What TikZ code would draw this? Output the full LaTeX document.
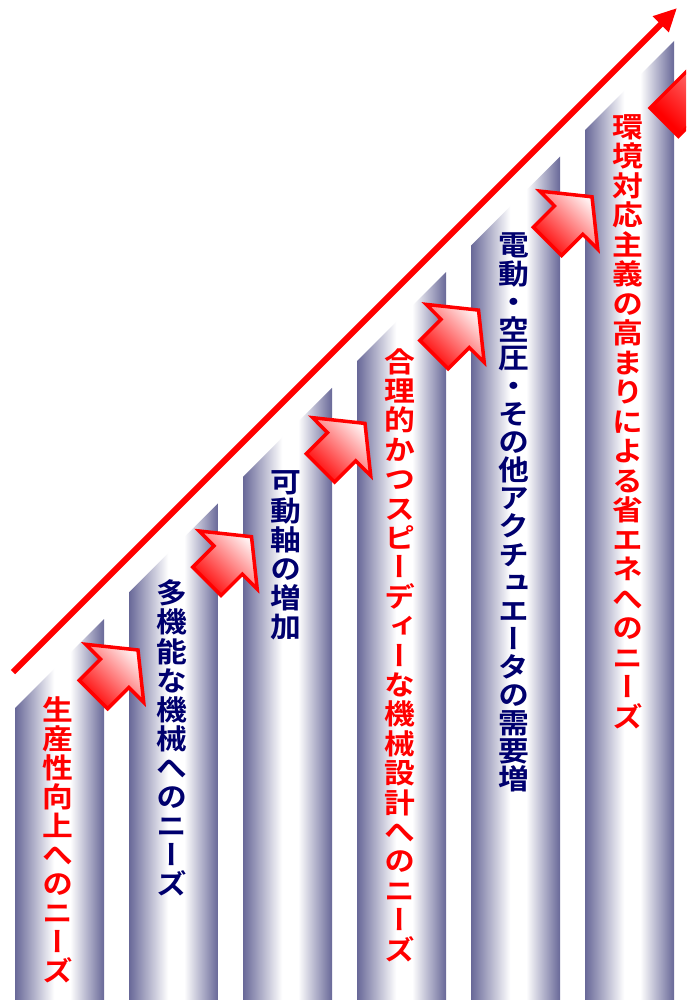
\documentclass[tikz,border=0pt]{standalone}
\usepackage{fontspec}
\newfontfamily\jp[RawFeature=+vert, FakeStretch=1.1]{Noto Sans CJK JP Bold}
\usetikzlibrary{arrows.meta}
\definecolor{coldark}{RGB}{104,104,152}
\definecolor{navytext}{RGB}{0,0,110}
\definecolor{arrowred}{RGB}{255,0,0}
\pgfdeclarehorizontalshading{colgrad}{100bp}{color(0bp)=(coldark); color(25bp)=(coldark); color(47bp)=(white); color(56bp)=(white); color(75bp)=(coldark); color(100bp)=(coldark)}
\makeatletter
\newdimen\tatep
\newcommand\tate[2]{\tatep=#1\relax\vbox{\offinterlineskip\tate@loop#2\relax}}
\def\tate@loop#1{\ifx#1\relax\else\hbox to 32pt{\hss\vrule width 0pt height 0.88\tatep depth 0.12\tatep #1\hss}\expandafter\tate@loop\fi}
\makeatother
\tikzset{
  column/.style={shading=colgrad, draw=none},
  blockarrow/.style={draw=arrowred, line width=3.5pt, line join=miter, miter limit=10,
     shading=axis, top color=red!6!white, bottom color=arrowred, shading angle=-45},
  vlabel/.style={anchor=north, inner sep=0pt, font=\jp\fontsize{28}{28}\selectfont},
  redlabel/.style={vlabel, text=red},
  navylabel/.style={vlabel, text=navytext},
  mainline/.style={draw=red, line width=6pt, -{Triangle[length=23pt, width=21pt]}}
}
\begin{document}
\begin{tikzpicture}[x=1pt, y=-1pt]
\useasboundingbox (0,0) rectangle (686,1000);
\fill[white] (0,0) rectangle (686,1000);
\clip (0,0) rectangle (686,1000);
% columns
\foreach \k in {0,...,5} {
  \pgfmathsetmacro\xa{15+114*\k}
  \pgfmathsetmacro\xb{104+114*\k}
  \pgfmathsetmacro\ya{708-115.6*\k}
  \pgfmathsetmacro\yb{619-115.6*\k}
  \shade[column] (\xa,1002) -- (\xa,\ya) -- (\xb,\yb) -- (\xb,1002) -- cycle;
}
% block arrows
\foreach \k in {0,...,4} {
  \pgfmathsetmacro\tx{138+113.5*\k}
  \pgfmathsetmacro\ty{650-113.3*\k}
  \begin{scope}[shift={(\tx,\ty)}]
    \path[blockarrow] (0,0) -- (-52.3,-5.7) -- (-37.5,9.2) -- (-58.7,30.4)
      -- (-30.4,58.7) -- (-9.2,37.5) -- (5.7,52.3) -- cycle;
  \end{scope}
}
\begin{scope}[shift={(758.2,28.1)}]
  \path[blockarrow] (0,0) -- (-52.3,-5.7) -- (-37.5,9.2) -- (-108.2,79.9)
    -- (-79.9,108.2) -- (-9.2,37.5) -- (5.7,52.3) -- cycle;
\end{scope}
% main arrow
\coordinate (start) at (13,672);
\coordinate (end) at (677,8);
\draw[mainline] (start) -- (end);
% labels
\node[redlabel]  (t1) at (58,695) {\tate{29.0pt}{生産性向上へのニーズ}};
\node[navylabel] (t2) at (172,578) {\tate{29.1pt}{多機能な機械へのニーズ}};
\node[navylabel] (t3) at (286,467) {\tate{29.0pt}{可動軸の増加}};
\node[redlabel]  (t4) at (400,346) {\tate{29.4pt}{合理的かつスピーディーな機械設計へのニーズ}};
\node[navylabel] (t5) at (514,231) {\tate{28.1pt}{電動・空圧・その他アクチュエータの需要増}};
\node[redlabel]  (t6) at (628,111) {\tate{29.5pt}{環境対応主義の高まりによる省エネへのニーズ}};
\end{tikzpicture}
\end{document}
